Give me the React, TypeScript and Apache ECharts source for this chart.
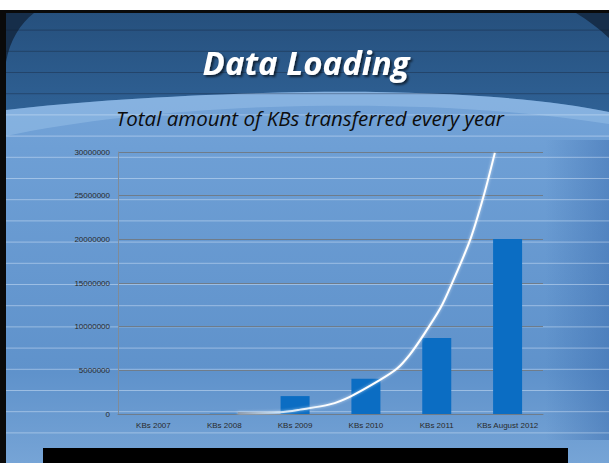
import React, { useEffect, useRef } from "react";
import * as echarts from "echarts";

const categories = ["KBs 2007", "KBs 2008", "KBs 2009", "KBs 2010", "KBs 2011", "KBs August 2012"];
const kbValues = [0, 30000, 2050000, 4050000, 8700000, 20050000];
// decorative trend curve: [category position, value]
const trendX = [1.19, 1.79, 2.07, 2.49, 2.78, 3.2, 3.44, 3.62, 3.81, 4.05, 4.19, 4.47, 4.66, 4.82];
const trendY = [110000, 200000, 500000, 1100000, 2000000, 3900000, 5200000, 6800000, 9000000, 12100000, 14500000, 19900000, 24900000, 29900000];
const yTicks = [0, 5000000, 10000000, 15000000, 20000000, 25000000, 30000000];

const TITLE = "Data Loading";
const SUBTITLE = "Total amount of KBs transferred every year";

echarts.graphic.registerShape(
  "hdr",
  echarts.graphic.extendPath("M6 13 H609 V112 C540 97 420 90 305 92 C200 94 90 100 6 110 Z", {})
);
echarts.graphic.registerShape(
  "band",
  echarts.graphic.extendPath("M6 110 C90 100 200 94 305 92 C420 90 540 97 609 112 V124 C520 110 420 104 305 106 C200 108 90 118 6 136 Z", {})
);
echarts.graphic.registerShape(
  "cornerL",
  echarts.graphic.extendPath("M6 13 H34 C20 24 10 40 6 62 Z", {})
);
echarts.graphic.registerShape(
  "cornerR",
  echarts.graphic.extendPath("M576 13 H609 V38 C598 28 588 20 576 13 Z", {})
);

export default function App() {
  const ref = useRef<HTMLDivElement>(null);
  useEffect(() => {
    const chart = echarts.init(ref.current!, null, { renderer: "svg" });
    const scan: any[] = [];
    for (let k = 0; k < 20; k++) {
      const y = 30.1 + 21.2 * k;
      scan.push({
        type: "line",
        silent: true,
        shape: { x1: 6, y1: y, x2: 609, y2: y },
        style: {
          stroke: y < 100 ? "rgba(20,30,45,0.35)" : "rgba(225,238,252,0.45)",
          lineWidth: 1,
        },
        z: -5,
      });
    }
    chart.setOption({
      animation: false,
      graphic: [
        { type: "rect", shape: { x: 0, y: 0, width: 609, height: 463 }, style: { fill: "#ffffff" }, z: -10 },
        { type: "rect", shape: { x: 0, y: 10, width: 609, height: 453 }, style: { fill: "#0a0a0a" }, z: -10 },
        {
          type: "rect",
          shape: { x: 6, y: 13, width: 603, height: 450 },
          style: {
            fill: new echarts.graphic.LinearGradient(0, 0, 0, 1, [
              { offset: 0, color: "#7eaadb" },
              { offset: 0.3, color: "#6e9fd5" },
              { offset: 0.8, color: "#5f92cb" },
              { offset: 1, color: "#76a4d6" },
            ]),
          },
          z: -10,
        },
        {
          type: "rect",
          shape: { x: 545, y: 140, width: 64, height: 300 },
          style: {
            fill: new echarts.graphic.LinearGradient(0, 0, 1, 0, [
              { offset: 0, color: "rgba(40,90,160,0)" },
              { offset: 1, color: "rgba(40,90,160,0.35)" },
            ]),
          },
          z: -9,
        },
        {
          type: "hdr",
          x: 0,
          y: 0,
          style: {
            fill: new echarts.graphic.LinearGradient(0, 0, 0, 1, [
              { offset: 0, color: "#26507d" },
              { offset: 1, color: "#2f6195" },
            ]),
          },
          z: -8,
        },
        { type: "band", x: 0, y: 0, style: { fill: "rgba(170,205,240,0.35)" }, z: -7 },
        { type: "cornerL", x: 0, y: 0, style: { fill: "#162e4a" }, z: -7 },
        { type: "cornerR", x: 0, y: 0, style: { fill: "#162e4a" }, z: -7 },
        ...scan,
        { type: "rect", shape: { x: 43, y: 448, width: 525, height: 15 }, style: { fill: "#000000" }, z: 10 },
        {
          type: "text",
          x: 306,
          y: 62,
          style: {
            text: TITLE,
            fill: "#ffffff",
            font: "italic bold 33px 'Open Sans'",
            align: "center",
            verticalAlign: "middle",
            textShadowColor: "rgba(0,0,0,0.6)",
            textShadowOffsetX: 2,
            textShadowOffsetY: 2,
            textShadowBlur: 2,
          },
          z: 10,
        },
        {
          type: "text",
          x: 310,
          y: 118,
          style: {
            text: SUBTITLE,
            fill: "#0d0d0d",
            font: "italic 20.5px 'Open Sans'",
            align: "center",
            verticalAlign: "middle",
          },
          z: 10,
        },
      ],
      grid: { left: 118, right: 66, top: 152, bottom: 49, containLabel: false },
      xAxis: [
        {
          type: "category",
          data: categories,
          axisTick: { show: false },
          axisLine: { lineStyle: { color: "#6f7c8a", width: 1 } },
          axisLabel: { color: "#2a2a2a", fontSize: 8, fontFamily: "Liberation Sans", margin: 7, interval: 0 },
        },
        { type: "value", min: -0.5, max: 5.5, show: false },
      ],
      yAxis: {
        type: "value",
        min: 0,
        max: 30000000,
        interval: 5000000,
        axisLine: { show: true, onZero: false, lineStyle: { color: "#7f8b98" } },
        axisTick: { show: false },
        axisLabel: {
          color: "#2a2a2a",
          fontSize: 8,
          fontFamily: "Liberation Sans",
          margin: 8,
          formatter: (v: number) => (yTicks.includes(v) ? String(v) : ""),
        },
        splitLine: { lineStyle: { color: "#6f7c8a", width: 1 } },
      },
      series: [
        {
          type: "bar",
          data: kbValues,
          barWidth: 29,
          itemStyle: { color: "#0b6dc3" },
          z: 2,
        },
        {
          type: "line",
          xAxisIndex: 1,
          data: trendX.map((x, i) => [x, trendY[i]]),
          smooth: 0.3,
          symbol: "none",
          lineStyle: {
            color: new echarts.graphic.LinearGradient(0, 0, 1, 0, [
              { offset: 0, color: "#8c9cb0" },
              { offset: 0.15, color: "#c9dff2" },
              { offset: 0.35, color: "#ffffff" },
              { offset: 1, color: "#ffffff" },
            ]),
            width: 2,
            shadowColor: "rgba(255,255,255,0.6)",
            shadowBlur: 3,
          },
          z: 3,
        },
      ],
    });
    return () => chart.dispose();
  }, []);
  return <div ref={ref} style={{ position: "absolute", left: 0, top: 0, width: 609, height: 463 }} />;
}
